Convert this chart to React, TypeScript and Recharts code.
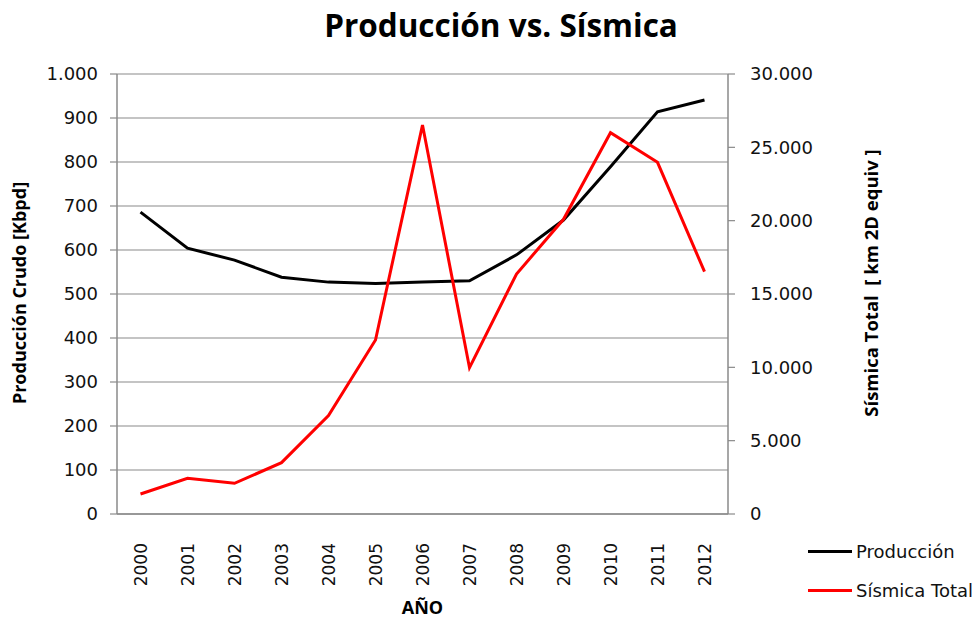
import React from 'react';
import { LineChart, Line, XAxis, YAxis, CartesianGrid, Legend } from 'recharts';

const years = ['2000', '2001', '2002', '2003', '2004', '2005', '2006', '2007', '2008', '2009', '2010', '2011', '2012'];
const produccion = [686, 604, 577, 538, 527, 524, 527, 530, 589, 668, 789, 914, 941];
const sismica = [1364, 2432, 2091, 3500, 6705, 11864, 26523, 9977, 16364, 20091, 26000, 23977, 16523];
const leftTicks = [0, 100, 200, 300, 400, 500, 600, 700, 800, 900, 1000];
const rightTicks = [0, 5000, 10000, 15000, 20000, 25000, 30000];

const data = years.map((y, i) => ({ year: y, produccion: produccion[i], sismica: sismica[i] }));

const fmt = (v: number) => String(v).replace(/\B(?=(\d{3})+(?!\d))/g, '.');

const TICK_FONT = 'DejaVu Sans, sans-serif';
const BOLD_FONT = '"Open Sans", sans-serif';
const GRAY = '#8a8a8a';

const XTick = (props: any) => {
  const { x, y, payload } = props;
  return (
    <text
      x={x}
      y={y + 21}
      transform={`rotate(-90, ${x}, ${y + 21})`}
      textAnchor="end"
      dominantBaseline="central"
      fontFamily={TICK_FONT}
      fontSize={17}
      fill="#111"
    >
      {payload.value}
    </text>
  );
};

const LegendContent = () => (
  <div style={{ fontFamily: TICK_FONT, fontSize: 18, color: '#111' }}>
    {[
      { name: 'Producción', color: '#000' },
      { name: 'Sísmica Total', color: '#ff0000' },
    ].map((it) => (
      <div key={it.name} style={{ display: 'flex', alignItems: 'center', height: 39, whiteSpace: 'nowrap' }}>
        <div style={{ width: 44, height: 3, background: it.color, marginRight: 4 }} />
        <span>{it.name}</span>
      </div>
    ))}
  </div>
);

export default function App() {
  return (
    <div style={{ position: 'absolute', left: 0, top: 0, width: 974, height: 620, background: '#fff' }}>
      <div
        style={{
          position: 'absolute',
          left: 0,
          top: 3,
          width: 1002,
          textAlign: 'center',
          fontFamily: BOLD_FONT,
          fontWeight: 700,
          fontSize: 31.5,
          color: '#000',
        }}
      >
        Producción vs. Sísmica
      </div>
      <LineChart width={974} height={620} data={data} margin={{ top: 74, right: 0, bottom: 0, left: 0 }}>
        <CartesianGrid yAxisId="left" vertical={false} stroke={GRAY} strokeWidth={1.2} />
        <XAxis
          dataKey="year"
          height={106}
          padding={{ left: 23.5, right: 23.5 }}
          tickLine={false}
          axisLine={{ stroke: GRAY, strokeWidth: 1.5 }}
          tick={<XTick />}
          interval={0}
          label={(p: any) => {
            const vb = p.viewBox;
            return (
              <text
                x={vb.x + vb.width / 2}
                y={607}
                textAnchor="middle"
                dominantBaseline="central"
                fontFamily={BOLD_FONT}
                fontWeight={700}
                fontSize={18}
                fill="#000"
              >
                AÑO
              </text>
            );
          }}
        />
        <YAxis
          yAxisId="left"
          width={117}
          domain={[0, 1000]}
          ticks={leftTicks}
          interval={0}
          tickFormatter={fmt}
          tickSize={7}
          tickMargin={12}
          tickLine={{ stroke: GRAY, strokeWidth: 1.2 }}
          axisLine={{ stroke: GRAY, strokeWidth: 1.5 }}
          tick={{ fontFamily: TICK_FONT, fontSize: 18, fill: '#111' }}
          label={() => (
            <text
              x={19}
              y={293}
              transform={`rotate(-90, 19, 293)`}
              textAnchor="middle"
              dominantBaseline="central"
              fontFamily={BOLD_FONT}
              fontWeight={700}
              fontSize={18}
              fill="#000"
            >
              Producción Crudo [Kbpd]
            </text>
          )}
        />
        <YAxis
          yAxisId="right"
          orientation="right"
          width={246}
          domain={[0, 30000]}
          ticks={rightTicks}
          interval={0}
          tickFormatter={fmt}
          tickSize={7}
          tickMargin={15}
          tickLine={{ stroke: GRAY, strokeWidth: 1.2 }}
          axisLine={{ stroke: GRAY, strokeWidth: 1.5 }}
          tick={{ fontFamily: TICK_FONT, fontSize: 18, fill: '#111' }}
          label={() => (
            <text
              x={870}
              y={283}
              transform={`rotate(-90, 870, 283)`}
              textAnchor="middle"
              dominantBaseline="central"
              fontFamily={BOLD_FONT}
              fontWeight={700}
              fontSize={18.5}
              fill="#000"
              xmlSpace="preserve"
              style={{ whiteSpace: 'pre' }}
            >
              {'Sísmica Total  [ km 2D equiv ]'}
            </text>
          )}
        />
        <Legend
          layout="vertical"
          align="center"
          verticalAlign="middle"
          content={<LegendContent />}
          wrapperStyle={{ left: 808, top: 532, width: 170, height: 80 }}
        />
        <Line
          yAxisId="left"
          type="linear"
          dataKey="produccion"
          name="Producción"
          stroke="#000"
          strokeWidth={3}
          dot={false}
          activeDot={false}
          isAnimationActive={false}
        />
        <Line
          yAxisId="right"
          type="linear"
          dataKey="sismica"
          name="Sísmica Total"
          stroke="#ff0000"
          strokeWidth={3}
          dot={false}
          activeDot={false}
          isAnimationActive={false}
        />
      </LineChart>
    </div>
  );
}
